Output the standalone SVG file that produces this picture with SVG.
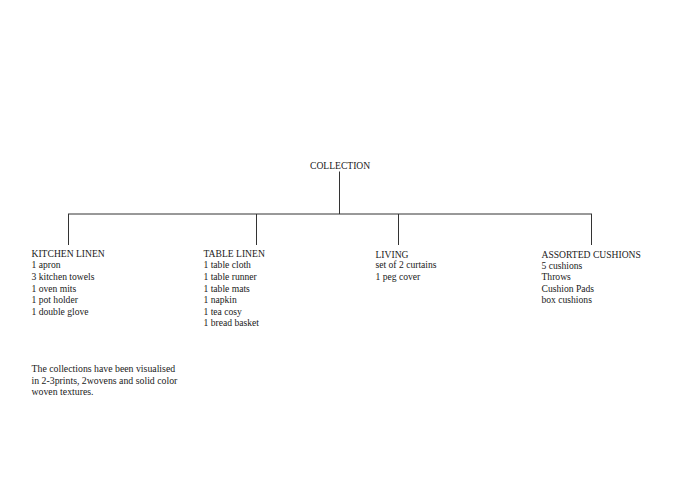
<svg xmlns="http://www.w3.org/2000/svg" width="680" height="479" viewBox="0 0 680 479">
<style>
text{font-family:"Liberation Serif","Times New Roman",serif;font-size:9.6px;fill:#1a1a1a}
.note text{font-size:9.8px}
.c line{stroke:#333;stroke-width:1;fill:none}
</style>
<rect width="680" height="479" fill="#fff"/>
<g class="c" id="connectors">
<line x1="339.5" y1="171.5" x2="339.5" y2="214"/>
<line x1="68" y1="214" x2="592" y2="214"/>
<line x1="68.5" y1="214" x2="68.5" y2="245"/>
<line x1="256.5" y1="214" x2="256.5" y2="245"/>
<line x1="398.5" y1="214" x2="398.5" y2="245"/>
<line x1="591.5" y1="214" x2="591.5" y2="245"/>
</g>
<g id="collection"><text x="310" y="169">COLLECTION</text></g>
<g id="kitchen">
<text x="31.5" y="257">KITCHEN LINEN</text>
<text x="31.5" y="268.3">1 apron</text>
<text x="31.5" y="279.9">3 kitchen towels</text>
<text x="31.5" y="291.5">1 oven mits</text>
<text x="31.5" y="303.1">1 pot holder</text>
<text x="31.5" y="314.7">1 double glove</text>
</g>
<g id="table">
<text x="203.5" y="257">TABLE LINEN</text>
<text x="203.5" y="268.3">1 table cloth</text>
<text x="203.5" y="279.9">1 table runner</text>
<text x="203.5" y="291.5">1 table mats</text>
<text x="203.5" y="303.1">1 napkin</text>
<text x="203.5" y="314.7">1 tea cosy</text>
<text x="203.5" y="326.3">1 bread basket</text>
</g>
<g id="living">
<text x="375.5" y="257.5">LIVING</text>
<text x="375.5" y="268">set of 2 curtains</text>
<text x="375.5" y="280">1 peg cover</text>
</g>
<g id="cushions">
<text x="541.5" y="257.8">ASSORTED CUSHIONS</text>
<text x="541.5" y="268.6">5 cushions</text>
<text x="541.5" y="280.2">Throws</text>
<text x="541.5" y="291.8">Cushion Pads</text>
<text x="541.5" y="303.4">box cushions</text>
</g>
<g id="note" class="note">
<text x="31.5" y="372">The collections have been visualised</text>
<text x="31.5" y="383.5">in 2-3prints, 2wovens and solid color</text>
<text x="31.5" y="395">woven textures.</text>
</g>
</svg>
